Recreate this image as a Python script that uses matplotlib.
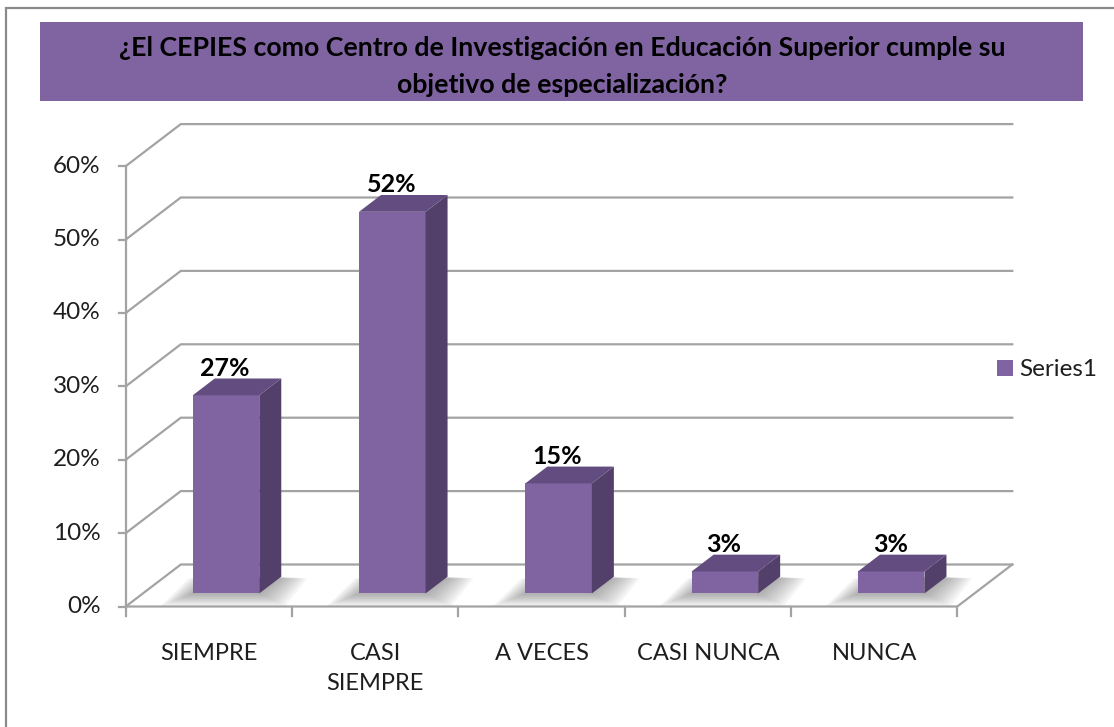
import matplotlib
matplotlib.use('Agg')
import matplotlib.pyplot as plt
from matplotlib.patches import Polygon, Rectangle, Patch

# ---------------- data ----------------
categories = ['SIEMPRE', 'CASI\nSIEMPRE', 'A VECES', 'CASI NUNCA', 'NUNCA']
values = [27, 52, 15, 3, 3]
value_labels = ['27%', '52%', '15%', '3%', '3%']
y_ticks = [0, 10, 20, 30, 40, 50, 60]
y_tick_labels = ['0%', '10%', '20%', '30%', '40%', '50%', '60%']
series_name = 'Series1'
title_lines = ['¿El CEPIES como Centro de Investigación en Educación Superior cumple su',
               'objetivo de especialización?']

# ---------------- style ----------------
plt.rcParams['font.family'] = ['Lato', 'DejaVu Sans']
FRONT = '#8064A2'
TOP = '#634C7F'
SIDE = '#523F6A'
GRID = '#A3A3A3'
TXT = '#1E1E1E'

W_PX, H_PX = 1114, 727
fig = plt.figure(figsize=(W_PX / 100, H_PX / 100), dpi=100)
ax = fig.add_axes([0, 0, 1, 1])

# pixel mapping of the front plane (category units / percent units)
X0, CW = 125.8, 166.3
Y0, YS = 606.5, 7.34
ax.set_xlim(-X0 / CW, (W_PX - X0) / CW)
ax.set_ylim((Y0 - H_PX) / YS, Y0 / YS)
ax.axis('off')

DX = 55 / CW      # depth offset in x
DY = 42 / YS      # depth offset in y
n = len(categories)
ymax = y_ticks[-1]

# walls / gridlines
for v in y_ticks:
    ax.plot([0, DX, n + DX], [v, v + DY, v + DY], color=GRID, lw=1.6,
            solid_joinstyle='miter', zorder=1)
# floor edges
ax.plot([0, n, n + DX], [0, 0, DY], color=GRID, lw=1.6, zorder=1)
# vertical axis
ax.plot([0, 0], [0, ymax], color=GRID, lw=1.6, zorder=5)
for v, lab in zip(y_ticks, y_tick_labels):
    ax.plot([-7 / CW, 0], [v, v], color=GRID, lw=1.6, zorder=5)
    ax.text(-25 / CW, v, lab, ha='right', va='center', fontsize=17.5, color=TXT)
# category ticks
for i in range(n + 1):
    ax.plot([i, i], [0, -9 / YS], color=GRID, lw=1.6, zorder=5)
for i, c in enumerate(categories):
    for j, line in enumerate(c.split('\n')):
        ax.text(i + 0.5, -(53.5 + 30 * j) / YS, line, ha='center', va='baseline',
                fontsize=17, color=TXT)

# bars
W = 0.40
F0 = 0.31
FD = 0.40
for i, v in enumerate(values):
    xl = i + 0.5 - W / 2 + F0 * DX
    yb = F0 * DY
    dW, dD = FD * DX, FD * DY
    # soft floor shadow
    for k in range(10, 0, -1):
        ex = k * 2.6 / CW
        ey = k * 0.9 / YS
        sy = -k * 0.35 / YS
        shp = [(xl - ex - k * 0.6 / CW, yb - ey + sy), (xl + W + ex, yb - ey + sy),
               (xl + W + dW + ex, yb + dD + ey * 0.2 + sy),
               (xl + dW - ex, yb + dD + ey * 0.2 + sy)]
        ax.add_patch(Polygon(shp, closed=True, facecolor='#555555',
                             alpha=0.055, edgecolor='none', zorder=2))
    front = Rectangle((xl, yb), W, v, facecolor=FRONT, edgecolor='none', zorder=3)
    side = Polygon([(xl + W, yb), (xl + W + dW, yb + dD),
                    (xl + W + dW, yb + dD + v), (xl + W, yb + v)],
                   closed=True, facecolor=SIDE, edgecolor='none', zorder=3)
    top = Polygon([(xl, yb + v), (xl + W, yb + v),
                   (xl + W + dW, yb + v + dD), (xl + dW, yb + v + dD)],
                  closed=True, facecolor=TOP, edgecolor='none', zorder=3)
    for p in (front, side, top):
        ax.add_patch(p)
    ax.text(xl + W / 2 - 1 / CW, yb + v + dD + 2.5 / YS, value_labels[i], ha='center',
            va='baseline', fontsize=18, fontweight='bold', color='black', zorder=6)

# title box
fig.patches.append(Rectangle((40 / W_PX, 1 - 101 / H_PX), 1043 / W_PX, 79 / H_PX,
                             transform=fig.transFigure, facecolor=FRONT,
                             edgecolor='none', zorder=0))
fig.text(562 / W_PX, 1 - 56 / H_PX, title_lines[0], ha='center', va='baseline',
         fontsize=19.3, fontweight='bold', color='black')
fig.text(562 / W_PX, 1 - 93 / H_PX, title_lines[1], ha='center', va='baseline',
         fontsize=19.3, fontweight='bold', color='black')

# outer chart border
fig.patches.append(Rectangle((6 / W_PX, -0.05), 1.1, 1 - 8 / H_PX + 0.05,
                             transform=fig.transFigure, facecolor='none',
                             edgecolor='#8A8A8A', lw=1.6, zorder=0))

# legend
leg = ax.legend(handles=[Patch(facecolor=FRONT, edgecolor='none', label=series_name)],
                loc='center left', bbox_to_anchor=(997 / W_PX, 1 - 370 / H_PX),
                bbox_transform=fig.transFigure, frameon=False, fontsize=17.5,
                handlelength=0.66, handleheight=0.66, handletextpad=0.25,
                borderpad=0, borderaxespad=0, labelcolor=TXT)

fig.savefig('out.png', dpi=100)
